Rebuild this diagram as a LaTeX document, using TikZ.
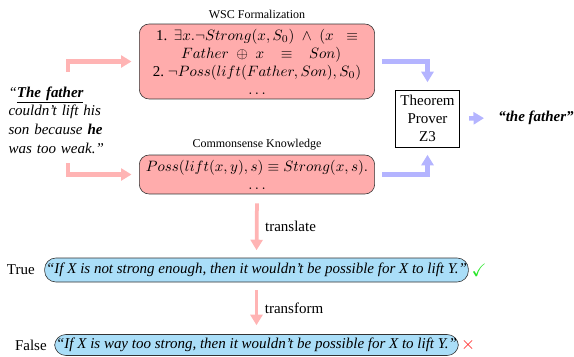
\documentclass[tikz,border=0pt]{standalone}
\usepackage{fontspec}
\setmainfont{Liberation Serif}
\usepackage{amsmath, amssymb}
\usepackage{tikz}
\usetikzlibrary{arrows.meta, positioning, calc}

\definecolor{boxpink}{RGB}{255, 172, 172}
\definecolor{arrowpink}{RGB}{255, 180, 180}
\definecolor{arrowblue}{RGB}{180, 180, 255}
\definecolor{pillblue}{RGB}{170, 222, 248}
\definecolor{okgreen}{RGB}{40, 230, 40}
\definecolor{badred}{RGB}{255, 20, 20}

\begin{document}
\begin{tikzpicture}[x=0.667pt, y=-0.667pt,
    logicbox/.style={draw=black!80, rounded corners=6.5pt, fill=boxpink, align=center, inner sep=1pt},
    pill/.style={draw=black!80, rounded corners=7.5pt, fill=pillblue, inner sep=1pt, font=\itshape},
    boxtitle/.style={font=\fontsize{8}{9.6}\selectfont},
    pinkarrow/.style={-{Triangle[length=7pt, width=8pt]}, line width=3pt, arrowpink},
    bluearrow/.style={-{Triangle[length=7pt, width=8pt]}, line width=3pt, arrowblue}]
  \useasboundingbox (0, 0) rectangle (574, 356);

  % Logic boxes
  \node[logicbox, minimum width=157pt, minimum height=50pt] (wsc) at (257, 61.5) {
    1.\;\,$\exists x.\neg Strong(x, S_0) \;\wedge\; (x\;\;\equiv$\\
    \;\;$Father \;\oplus\; x \;\;\;\equiv\;\;\; Son)$\\
    2.~$\neg Poss(lift(Father, Son), S_0)$\\
    $\ldots$
  };
  \node[boxtitle] (wsctitle) at (257, 14) {WSC Formalization};

  \node[logicbox, minimum width=157pt, minimum height=26pt] (cs) at (257, 174.5) {
    $Poss(lift(x, y), s) \equiv Strong(x, s).$\\
    $\ldots$
  };
  \node[boxtitle] (cstitle) at (257, 145) {Commonsense Knowledge};

  % Sentence
  \node[text width=66pt, align=left, inner sep=0pt, font=\itshape] (quote) at (58, 120) {
    ``\underline{\textbf{The father}}\\[0.5pt]
    couldn't lift his\\[0.5pt]
    son because \textbf{he}\\[0.5pt]
    was too weak.''
  };
  \coordinate (qtop) at (68, 72);
  \coordinate (qbot) at (68, 163);
  \draw[pinkarrow, shorten >=5pt] (qtop) |- (wsc.west);
  \draw[pinkarrow, shorten >=5pt] (qbot) |- (cs.west);

  % Prover
  \node[draw, fill=white, align=center, minimum width=43pt, minimum height=38pt, inner sep=1pt] (prover) at (427.5, 118.5) {Theorem\\Prover\\Z3};
  \draw[bluearrow, shorten <=5pt, shorten >=5pt] (wsc.east) -| (prover.north);
  \draw[bluearrow, shorten <=5pt, shorten >=5pt] (cs.east) -| (prover.south);

  \node[font=\bfseries\itshape] (answer) at (536, 118) {``the father''};
  \draw[bluearrow, shorten <=6pt, shorten >=6pt] (prover.east) -- (answer.west);

  % Natural language
  \node[pill, minimum width=278pt, minimum height=16pt] (truebox) at (256.5, 270) {``If X is not strong enough, then it wouldn't be possible for X to lift Y.''};
  \node[anchor=east] (truelbl) at (40, 270) {True};
  \node[text=okgreen, font=\large] (tick) at (479, 270) {$\checkmark$};

  \node[pill, minimum width=265pt, minimum height=14pt] (falsebox) at (256.5, 345) {``If X is way too strong, then it wouldn't be possible for X to lift Y.''};
  \node[anchor=east] (falselbl) at (52, 345) {False};
  \node[text=badred, font=\large] (cross) at (468, 345) {$\times$};

  \draw[pinkarrow, line width=2.5pt, shorten <=6pt, shorten >=5pt] (cs.south) -- node[right, black, xshift=1pt] {translate} (truebox.north);
  \draw[pinkarrow, line width=2.5pt, shorten <=5pt, shorten >=6pt] (truebox.south) -- node[right, black, xshift=1pt] {transform} (falsebox.north);
\end{tikzpicture}
\end{document}
